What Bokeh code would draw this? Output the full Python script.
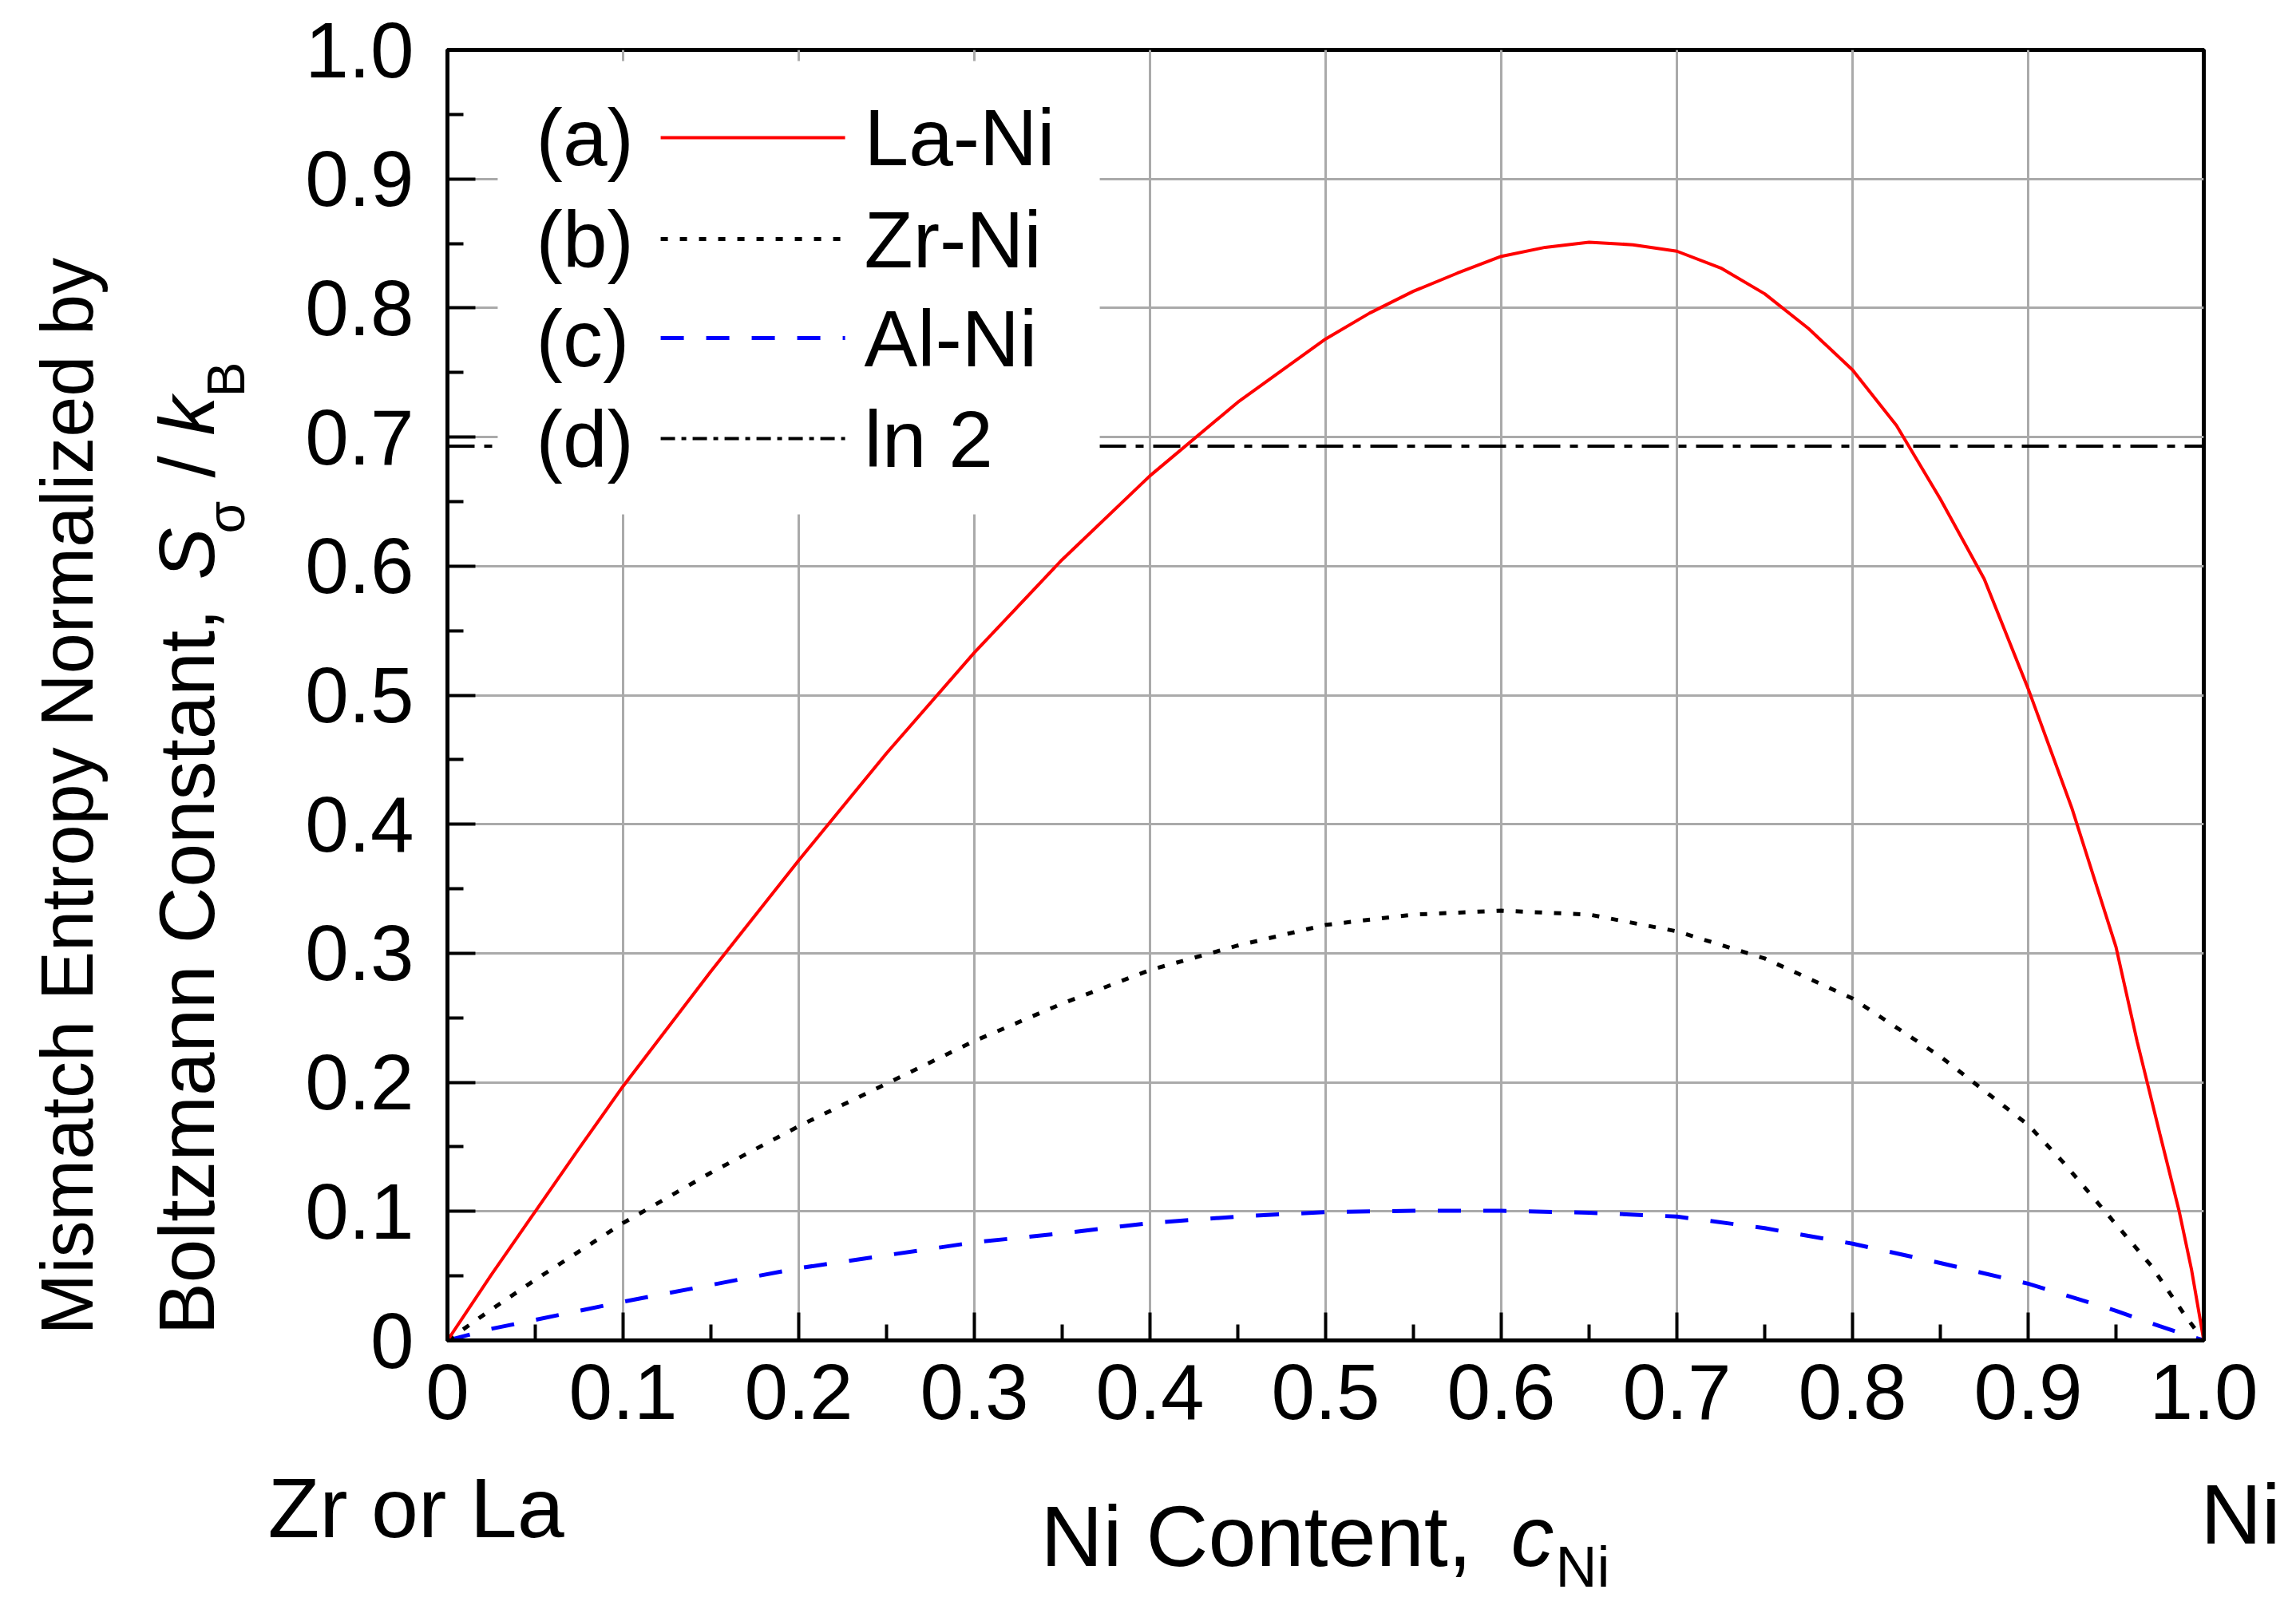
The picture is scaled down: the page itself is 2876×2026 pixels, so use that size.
import math
from bokeh.plotting import figure
from bokeh.layouts import row, column
from bokeh.models import Range1d, FixedTicker, Label, BoxAnnotation
from bokeh.embed import file_html
from bokeh.resources import INLINE

# ---------------- data ----------------
la_x = [0.0, 0.025, 0.05, 0.075, 0.1, 0.15, 0.2, 0.25, 0.3, 0.35, 0.4, 0.45, 0.5, 0.525,
        0.55, 0.575, 0.6, 0.625, 0.65, 0.675, 0.7, 0.725, 0.75, 0.775, 0.8, 0.825, 0.85, 0.875,
        0.9, 0.925, 0.95, 0.962, 0.975, 0.986, 0.993, 1.0]
la_y = [0.0, 0.051, 0.100, 0.149, 0.197, 0.286, 0.372, 0.455, 0.533, 0.605, 0.670, 0.727, 0.776, 0.796,
        0.813, 0.827, 0.840, 0.847, 0.851, 0.849, 0.844, 0.831, 0.811, 0.784, 0.752, 0.709, 0.652, 0.590,
        0.505, 0.412, 0.305, 0.232, 0.160, 0.100, 0.055, 0.0]

zr_x = [0.0, 0.025, 0.05, 0.1, 0.15, 0.2, 0.25, 0.3, 0.35, 0.4, 0.45, 0.5, 0.55, 0.6,
        0.65, 0.7, 0.75, 0.8, 0.85, 0.9, 0.92, 0.95, 0.97, 0.99, 1.0]
zr_y = [0.0, 0.024, 0.047, 0.091, 0.130, 0.166, 0.199, 0.232, 0.261, 0.287, 0.306, 0.322, 0.330, 0.333,
        0.330, 0.317, 0.296, 0.265, 0.220, 0.167, 0.138, 0.090, 0.058, 0.018, 0.0]

al_x = [0.0, 0.025, 0.05, 0.1, 0.15, 0.2, 0.25, 0.3, 0.35, 0.4, 0.45, 0.5, 0.55, 0.6,
        0.65, 0.7, 0.75, 0.8, 0.85, 0.9, 0.95, 0.975, 1.0]
al_y = [0.0, 0.009, 0.016, 0.030, 0.043, 0.056, 0.066, 0.076, 0.083, 0.091, 0.096, 0.0995, 0.1005, 0.1005,
        0.099, 0.096, 0.087, 0.075, 0.060, 0.044, 0.023, 0.011, 0.0]

ln2_value = 0.693
ln2_x = [0.0, 1.0]
ln2_y = [ln2_value, ln2_value]

x_ticks = [0.0, 0.1, 0.2, 0.3, 0.4, 0.5, 0.6, 0.7, 0.8, 0.9, 1.0]
x_tick_labels = ["0", "0.1", "0.2", "0.3", "0.4", "0.5", "0.6", "0.7", "0.8", "0.9", "1.0"]
y_ticks = [0.0, 0.1, 0.2, 0.3, 0.4, 0.5, 0.6, 0.7, 0.8, 0.9, 1.0]
y_tick_labels = ["0", "0.1", "0.2", "0.3", "0.4", "0.5", "0.6", "0.7", "0.8", "0.9", "1.0"]
minor_ticks = [0.05, 0.15, 0.25, 0.35, 0.45, 0.55, 0.65, 0.75, 0.85, 0.95]

legend_tags = ["(a)", "(b)", "(c)", "(d)"]
legend_names = ["La-Ni", "Zr-Ni", "Al-Ni", "ln 2"]

FONT = "Liberation Sans"

# ---------------- layout sizes (px) ----------------
TOTAL_W, TOTAL_H = 2860, 2010
LEFT_W = 330
TOP_H = 1822
BOTTOM_H = TOTAL_H - TOP_H
BORDER_TOP, BORDER_BOTTOM = 62, 143
FRAME_BOTTOM = TOP_H - BORDER_BOTTOM          # 1679 px from top
FRAME_H = TOP_H - BORDER_TOP - BORDER_BOTTOM  # 1617 px

# ---------------- main plot ----------------
p = figure(width=TOTAL_W - LEFT_W, height=TOP_H, output_backend="svg", toolbar_location=None,
           x_range=Range1d(0, 1), y_range=Range1d(0, 1),
           min_border_left=230, min_border_right=100,
           min_border_top=BORDER_TOP, min_border_bottom=BORDER_BOTTOM)
p.background_fill_color = "white"
p.border_fill_color = "white"
p.outline_line_color = "black"
p.outline_line_width = 5

for ax, ticks, labels in ((p.xaxis[0], x_ticks, x_tick_labels), (p.yaxis[0], y_ticks, y_tick_labels)):
    ax.ticker = FixedTicker(ticks=ticks, minor_ticks=minor_ticks)
    ax.major_label_overrides = {t: l for t, l in zip(ticks, labels)}
    ax.axis_line_color = "black"
    ax.axis_line_width = 5
    ax.major_tick_in = 35
    ax.major_tick_out = 0
    ax.minor_tick_in = 20
    ax.minor_tick_out = 0
    ax.major_tick_line_width = 4
    ax.minor_tick_line_width = 4
    ax.major_tick_line_color = "black"
    ax.minor_tick_line_color = "black"
    ax.major_label_text_font = FONT
    ax.major_label_text_font_size = "98px"
    ax.major_label_text_color = "black"

p.xaxis.major_label_standoff = 30
p.yaxis.major_label_standoff = 42

p.xgrid.ticker = FixedTicker(ticks=x_ticks)
p.ygrid.ticker = FixedTicker(ticks=y_ticks)
p.grid.grid_line_color = "#aaaaaa"
p.grid.grid_line_width = 3

p.line(ln2_x, ln2_y, line_color="black", line_width=4, line_dash="34 12 10 12")
p.line(al_x, al_y, line_color="#0000ff", line_width=5, line_dash="29 28")
p.line(zr_x, zr_y, line_color="black", line_width=5, line_dash="9 15")
p.line(la_x, la_y, line_color="#ff0000", line_width=4)

# legend (manual)
p.add_layout(BoxAnnotation(left=0.0286, right=0.3714, bottom=0.6401, top=0.9913,
                           fill_color="white", fill_alpha=1.0, line_alpha=0.0))
leg_y = [0.9320, 0.8534, 0.7767, 0.6988]
leg_styles = [dict(line_color="#ff0000", line_width=4),
              dict(line_color="black", line_width=5, line_dash="9 15"),
              dict(line_color="#0000ff", line_width=5, line_dash="29 28"),
              dict(line_color="black", line_width=4, line_dash="18 8 6 8")]
for tag, name, ly, st in zip(legend_tags, legend_names, leg_y, leg_styles):
    p.add_layout(Label(x=0.0505, y=ly, text=tag, text_font=FONT, text_font_size="100px",
                       text_color="black", text_align="left", text_baseline="middle"))
    p.add_layout(Label(x=0.2373, y=ly, text=name, text_font=FONT, text_font_size="100px",
                       text_color="black", text_align="left", text_baseline="middle"))
    p.line([0.1214, 0.2264], [ly, ly], level="overlay", **st)


# ---------------- text-only panels for the axis titles ----------------
def text_panel(w, h, xr, yr, top=0, bottom=0):
    f = figure(width=w, height=h, output_backend="svg", toolbar_location=None,
               x_range=xr, y_range=yr, x_axis_location=None, y_axis_location=None,
               min_border=0, min_border_left=0, min_border_right=0,
               min_border_top=top, min_border_bottom=bottom)
    f.grid.visible = False
    f.outline_line_color = None
    f.background_fill_color = "white"
    f.border_fill_color = "white"
    return f


def lab(f, x, y, text, size, style="normal", angle=0.0):
    f.add_layout(Label(x=x, y=y, text=text, text_font=FONT, text_font_size=size,
                       text_font_style=style, text_color="black", text_align="left",
                       text_baseline="middle", angle=angle))


# left panel: frame aligned with the main frame; y = px above the frame bottom
left = text_panel(LEFT_W, TOP_H, Range1d(0, LEFT_W), Range1d(0, FRAME_H),
                  top=BORDER_TOP, bottom=BORDER_BOTTOM)
A = math.pi / 2
lab(left, 83, FRAME_BOTTOM - 1672, "Mismatch Entropy Normalized by", "92px", angle=A)
lab(left, 233, FRAME_BOTTOM - 1672, "Boltzmann Constant,", "98px", angle=A)
lab(left, 233, FRAME_BOTTOM - 726, "S", "98px", style="italic", angle=A)
lab(left, 282, FRAME_BOTTOM - 668, "\u03c3", "66px", angle=A)
lab(left, 233, FRAME_BOTTOM - 598, "/", "98px", angle=A)
lab(left, 233, FRAME_BOTTOM - 545, "k", "98px", style="italic", angle=A)
lab(left, 282, FRAME_BOTTOM - 497, "B", "66px", angle=A)

# bottom panel: x-axis title and end labels (y = px above the page bottom)
bottom = text_panel(TOTAL_W, BOTTOM_H, Range1d(0, TOTAL_W), Range1d(0, BOTTOM_H))
lab(bottom, 335, TOTAL_H - 1888, "Zr or La", "106px")
lab(bottom, 2756, TOTAL_H - 1896, "Ni", "106px")
lab(bottom, 1303, TOTAL_H - 1924, "Ni Content,", "108px")
lab(bottom, 1892, TOTAL_H - 1924, "c", "108px", style="italic")
lab(bottom, 1948, TOTAL_H - 1962, "Ni", "72px")

layout = column(row(left, p), bottom)
open("out.html", "w").write(file_html(layout, INLINE))
